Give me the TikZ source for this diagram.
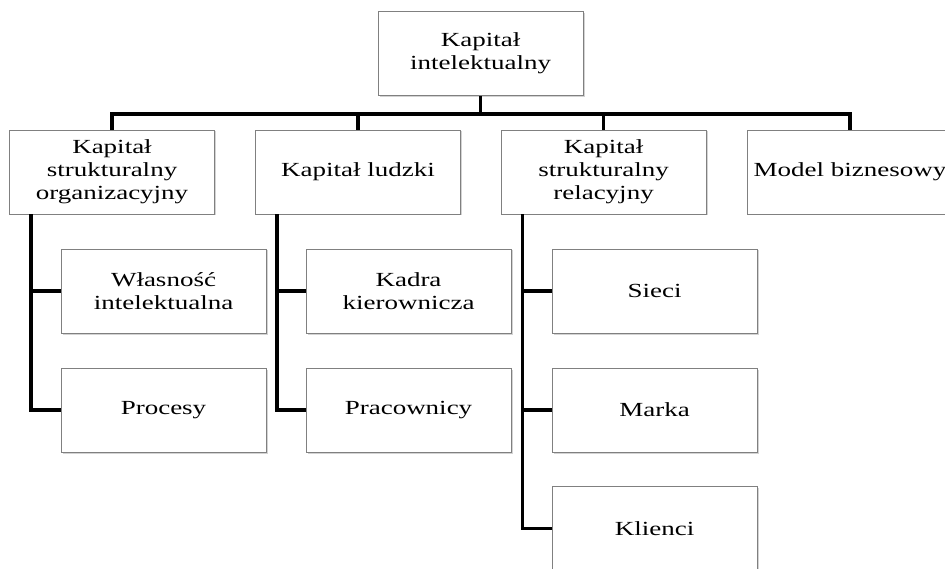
\documentclass[tikz,border=0pt]{standalone}
\usepackage{fontspec}
\setmainfont{Liberation Serif}[FakeStretch=1.35]
\usepackage{tikz}
\usetikzlibrary{
	calc,
	shadows
}
\definecolor{BoxGray}{RGB}{128,128,128}

\begin{document}
\begin{tikzpicture}[x=1pt, y=-1pt,
		box/.style={draw=BoxGray, line width=0.8pt, fill=white,
			minimum width=205pt, minimum height=84pt, inner sep=2pt,
			align=center, font=\fontsize{20}{23}\selectfont,
			drop shadow={opacity=0.35, shadow xshift=1.5pt, shadow yshift=-1.5pt}},
		link/.style={line width=3.6pt, black}]
		
		\clip (0,0) rectangle (945,569);
		
		% top
		\node[box] (root) at (480.5,53.5) {Kapitał\\intelektualny};
		
		% first level
		\node[box] (orgcap) at (112,172) {Kapitał\\strukturalny\\organizacyjny};
		\node[box] (humcap) at (358,172) {Kapitał ludzki};
		\node[box] (relcap) at (603.5,172) {Kapitał\\strukturalny\\relacyjny};
		\node[box] (model) at (850,172) {Model biznesowy};
		
		% second level
		\node[box] (ip) at (163.5,291) {Własność\\intelektualna};
		\node[box] (proc) at (163.5,410) {Procesy};
		\node[box] (mgmt) at (408.5,291) {Kadra\\kierownicza};
		\node[box] (staff) at (408.5,410) {Pracownicy};
		\node[box] (net) at (654.5,291) {Sieci};
		\node[box] (brand) at (654.5,410) {Marka};
		\node[box] (clients) at (654.5,528.5) {Klienci};
		
		\coordinate (bus) at ($(root.south)+(0,18)$);
		\coordinate (S1) at ([xshift=22pt]orgcap.south west);
		\coordinate (S2) at ([xshift=22pt]humcap.south west);
		\coordinate (S3) at ([xshift=22pt]relcap.south west);
		
		\draw[link] (root.south) -- (bus);
		\draw[link] (orgcap.north) |- (bus) -| (model.north);
		\draw[link] (humcap.north) -- (humcap.north |- bus);
		\draw[link] (relcap.north) -- (relcap.north |- bus);
		
		\draw[link] (S1) |- (proc.west);
		\draw[link] (ip.west) -- (ip.west -| S1);
		\draw[link] (S2) |- (staff.west);
		\draw[link] (mgmt.west) -- (mgmt.west -| S2);
		\draw[link] (S3) |- (clients.west);
		\draw[link] (net.west) -- (net.west -| S3);
		\draw[link] (brand.west) -- (brand.west -| S3);
	\end{tikzpicture}
\end{document}
